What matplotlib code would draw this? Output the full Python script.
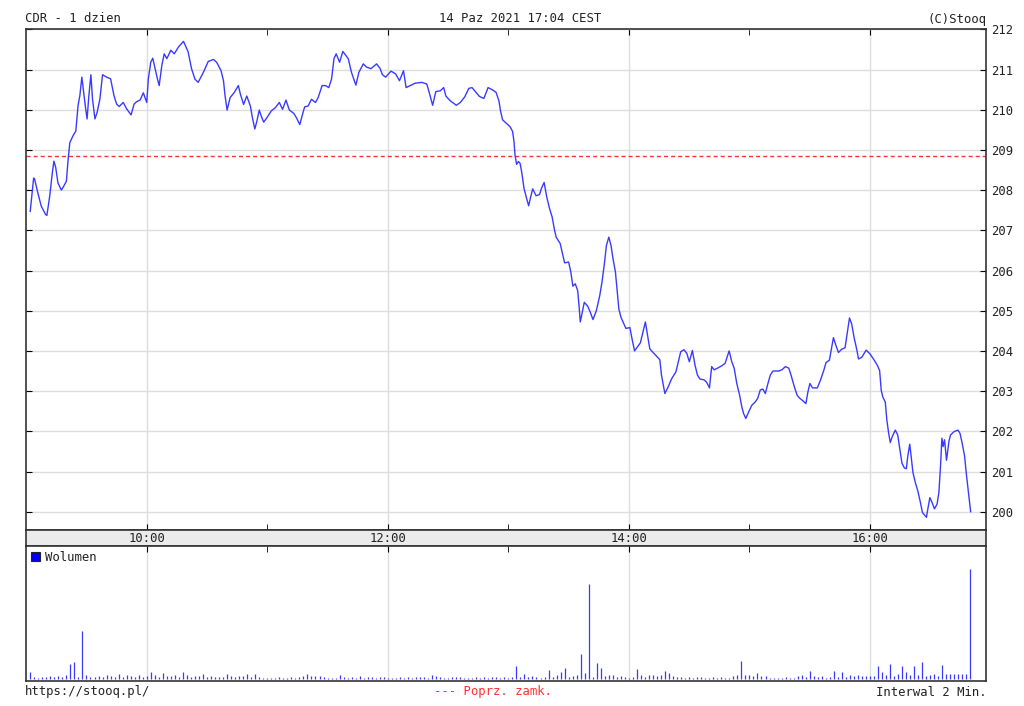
import matplotlib
matplotlib.use("Agg")  # no display
import matplotlib.pyplot as plt
import numpy as np
from matplotlib.patches import Patch

# price path: (minutes after 09:00, price in PLN)
price_points = [
    (2, 207.47), (3.7, 208.3), (4.2, 208.27), (5.8, 207.93), (7.5, 207.6),
    (9.7, 207.39), (10.3, 207.37), (11.7, 207.85), (13, 208.43), (13.8, 208.72),
    (14.7, 208.56), (15.8, 208.18), (17.5, 208.0), (18.7, 208.1), (20, 208.22),
    (20.8, 208.72), (21.7, 209.18), (23.3, 209.35), (24.7, 209.47), (25.8, 210.1),
    (26.7, 210.35), (27.7, 210.81), (28.7, 210.39), (29.5, 210.06), (30.3, 209.77),
    (31.2, 210.35), (32.2, 210.87), (33, 210.27), (34.2, 209.77), (35.3, 209.93),
    (36.7, 210.27), (38, 210.87), (40, 210.81), (42, 210.77), (43.7, 210.35),
    (45, 210.14), (46.3, 210.08), (48.3, 210.18), (50, 210.02), (52.2, 209.87),
    (53.7, 210.14), (55, 210.2), (56.7, 210.24), (58.3, 210.42), (60, 210.18),
    (60.8, 210.77), (62, 211.18), (63, 211.28), (64.2, 211.02), (65.3, 210.77),
    (66.2, 210.6), (67.5, 211.1), (68.7, 211.39), (70, 211.27), (72, 211.48),
    (73.7, 211.39), (75.8, 211.56), (78.3, 211.7),
    (80.6, 211.44), (82.3, 211.02), (84, 210.76), (85.6, 210.68), (88.2, 210.93),
    (90.6, 211.2), (93.2, 211.25), (94.8, 211.18), (97, 210.97), (98.2, 210.72),
    (99, 210.34), (100, 209.99), (101.5, 210.3), (103.6, 210.43), (105.6, 210.6),
    (106.6, 210.39), (108.2, 210.13), (109.8, 210.34), (111.6, 210.09), (112.6, 209.8),
    (113.8, 209.52), (114.8, 209.71), (116, 209.99), (117, 209.84), (118.2, 209.69),
    (119.8, 209.8), (122, 209.97), (124, 210.05), (126, 210.18), (127.6, 210.01),
    (129.3, 210.24), (131, 209.99), (133.2, 209.91), (134.5, 209.8), (136.2, 209.63),
    (137.3, 209.84), (138.6, 210.07), (140.3, 210.09), (142, 210.26), (144, 210.18),
    (145.3, 210.3), (147.3, 210.6), (149, 210.6), (150.6, 210.55), (152, 210.76),
    (153.2, 211.27), (154.3, 211.39), (156, 211.18), (157.6, 211.45),
    (160.3, 211.27), (161.9, 210.93), (164.1, 210.61), (165.6, 210.93), (167.8, 211.14),
    (169.4, 211.06), (171.6, 211.02), (174.4, 211.14), (176.1, 211.03), (177.3, 210.87),
    (178.9, 210.81), (181.6, 210.96), (183.9, 210.89), (185.8, 210.72), (187.8, 210.97),
    (189.1, 210.55), (191.1, 210.6), (193.6, 210.66), (196.9, 210.68), (199.4, 210.64),
    (200.6, 210.43), (202.3, 210.11), (203.9, 210.45), (206.1, 210.47), (207.8, 210.55),
    (208.9, 210.34), (211.1, 210.22), (214.1, 210.11), (216.1, 210.18), (218.3, 210.32),
    (220.3, 210.53), (221.9, 210.55), (223.9, 210.43), (225.6, 210.33), (227.8, 210.28),
    (229.9, 210.55), (231.9, 210.5), (233.9, 210.43), (235.3, 210.22), (236.1, 209.97),
    (237.1, 209.75), (238.8, 209.67), (240.8, 209.58), (242.1, 209.46), (242.8, 209.21),
    (243.3, 208.88), (244.1, 208.64), (245, 208.71), (245.8, 208.67), (246.6, 208.46),
    (247.8, 208.04), (249.1, 207.79), (250.1, 207.61), (251.1, 207.83), (252.1, 208.03),
    (253.8, 207.86), (255.5, 207.89), (256.6, 208.06), (257.8, 208.19), (259.1, 207.83),
    (260.5, 207.54), (261.8, 207.33), (263, 207.0), (263.8, 206.83), (265.8, 206.67),
    (267.1, 206.38), (268, 206.19), (270, 206.21), (271.1, 205.96), (272.1, 205.61),
    (273.3, 205.67), (274.5, 205.5), (275.1, 205.17), (275.8, 204.72), (276.8, 204.96),
    (277.8, 205.21), (279.5, 205.11), (280.8, 204.96), (282.1, 204.78), (283.8, 205.0),
    (285.5, 205.38), (286.6, 205.71), (287.8, 206.17), (288.8, 206.62), (290, 206.83),
    (291.1, 206.62), (292.1, 206.29), (293.3, 205.96), (294.1, 205.54), (295, 205.04),
    (296.1, 204.83), (297.5, 204.67), (298.5, 204.56), (300.5, 204.58), (301.6, 204.29),
    (302.8, 204.0), (305.7, 204.2), (308.2, 204.72), (310.4, 204.05),
    (315.4, 203.78), (316.2, 203.4), (317.9, 202.94), (319.6, 203.11), (321.2, 203.3),
    (323.4, 203.48), (324.6, 203.73), (325.8, 203.98), (327.4, 204.03), (328.8, 203.94),
    (330.1, 203.73), (331.6, 204.01), (332.9, 203.65), (334.1, 203.4), (335.4, 203.3),
    (337.4, 203.28), (338.7, 203.22), (340.1, 203.08), (341.2, 203.61), (342.4, 203.53),
    (344.1, 203.57), (346.2, 203.63), (347.9, 203.69), (348.7, 203.82), (349.9, 204.0),
    (351.2, 203.73), (352.4, 203.57), (353.7, 203.19), (355.1, 202.9), (356.2, 202.61),
    (357.1, 202.44), (358.2, 202.32), (359.6, 202.48), (361.2, 202.65), (362.9, 202.73),
    (364.1, 202.82), (365.4, 203.03), (366.7, 203.05), (367.9, 202.94), (369.1, 203.17),
    (370.4, 203.4), (371.7, 203.5), (374.6, 203.5), (376.2, 203.53), (377.9, 203.61),
    (379.6, 203.57), (380.7, 203.4), (382.1, 203.15), (383.7, 202.9), (385.1, 202.82),
    (386.8, 202.75), (388.1, 202.69), (389.1, 202.98), (390.1, 203.19), (391.4, 203.08),
    (393.8, 203.08), (395.4, 203.28), (397.1, 203.53),
    (398.1, 203.71), (399.8, 203.77), (400.9, 204.08), (401.8, 204.33), (402.9, 204.16),
    (404.3, 203.96), (405.9, 204.04), (407.6, 204.08), (408.8, 204.49), (409.8, 204.82),
    (410.9, 204.67), (412.1, 204.33), (413.4, 204.04), (414.3, 203.8), (415.9, 203.84),
    (418.1, 204.02), (420.1, 203.92), (422.1, 203.77), (423.8, 203.63), (424.8, 203.51),
    (425.6, 203.02), (426.4, 202.85), (427.6, 202.73), (428.4, 202.28), (429.3, 201.95),
    (430.1, 201.72), (431.1, 201.87), (432.6, 202.03), (433.8, 201.91), (434.8, 201.58),
    (435.9, 201.21), (437.1, 201.09), (438.1, 201.07), (438.8, 201.38), (439.8, 201.68),
    (440.4, 201.42), (441.4, 200.97), (442.6, 200.72), (443.8, 200.52), (445.1, 200.23),
    (446.1, 199.98), (447.1, 199.92), (448.1, 199.86), (448.8, 200.07), (449.8, 200.35),
    (450.9, 200.23), (452.1, 200.07), (453.4, 200.19), (454.3, 200.48), (455.1, 201.13),
    (455.8, 201.83), (456.4, 201.62), (457.1, 201.79), (458.1, 201.28), (459.3, 201.75),
    (460.1, 201.91), (461.8, 201.99), (463.8, 202.03), (464.8, 201.95), (465.9, 201.7),
    (467.1, 201.38), (467.9, 200.97), (468.9, 200.52), (470.1, 200.0),
]
prev_close = 208.85

# 2-minute volume bars 09:02 .. 16:50 (relative heights, no scale shown)
volume = [
    7, 2, 1, 2, 2, 3, 2, 3, 2, 4, 15, 17, 2, 48, 4, 2, 2, 3, 2, 4,
    3, 2, 5, 2, 4, 3, 2, 4, 2, 3, 7, 4, 2, 6, 3, 3, 4, 2, 7, 4,
    2, 3, 3, 5, 2, 3, 2, 2, 2, 5, 3, 2, 3, 3, 5, 2, 5, 2, 1, 1,
    1, 1, 2, 1, 1, 2, 1, 2, 3, 5, 3, 3, 3, 2, 1, 1, 1, 4,
    2, 1, 2, 1, 3, 1, 2, 2, 1, 2, 2, 1, 1, 1, 2, 1, 2, 1, 2, 2,
    2, 1, 4, 3, 2, 1, 1, 2, 2, 2, 1, 1, 1, 2, 1, 2, 1, 2, 2, 1,
    2, 1, 2, 13, 2, 5, 2, 3, 2, 1, 2, 9, 2, 4, 7, 11, 2, 3, 4, 25,
    6, 95, 2, 16, 11, 3, 4, 4, 2, 3, 2, 1, 2, 10, 4, 2, 4, 4, 3, 4,
    8, 6, 3, 2, 2,
    1, 2, 1, 2, 2, 1, 1, 2, 1, 2, 1, 1, 3, 4, 18, 4, 4, 3, 6, 3,
    3, 1, 1, 1, 1, 2, 1, 1, 3, 4, 2, 8, 3, 2, 3, 1, 2, 8, 2, 7,
    2, 4, 3, 4, 3, 3, 3, 3, 13, 7, 4, 15, 3, 5, 13, 7, 4, 13, 4, 17,
    3, 4, 5, 3, 14, 5, 5, 5, 5, 5, 5, 110,
]
vol_minutes = np.arange(2, 2 + 2 * len(volume), 2)

price_ticks = list(range(200, 213))
hour_major = [60, 180, 300, 420]
hour_minor = [120, 240, 360]
hour_labels = ["10:00", "12:00", "14:00", "16:00"]

FONT = "DejaVu Sans Mono"
TXT = "#222222"
GRID = "#dedede"
BLUE = "#3a3aff"
plt.rcParams["font.family"] = FONT

t, p = zip(*price_points)
xmax = 477.6

fig = plt.figure(figsize=(10.24, 7.06), dpi=100, facecolor="white")
L, W = 26.2 / 1024, 959.5 / 1024
ax = fig.add_axes([L, 1 - 530 / 706, W, (530 - 29.3) / 706])
strip = fig.add_axes([L, 1 - 546 / 706, W, 16 / 706])
axv = fig.add_axes([L, 1 - 680.7 / 706, W, (680.7 - 546) / 706])

for a in (ax, strip, axv):
    a.set_xlim(0, xmax)
    for s in a.spines.values():
        s.set_color("#333333")
        s.set_linewidth(1.2)

# price panel
ax.plot(t, p, color=BLUE, lw=1.0, zorder=3)
ax.axhline(prev_close, color="#ff3030", lw=1.0, ls=(0, (2.9, 2.2)), zorder=2)
ax.set_ylim(199.545, 212)
ax.set_yticks(price_ticks)
ax.set_xticks(hour_major)
ax.set_xticks(hour_minor, minor=True)
ax.grid(which="major", color=GRID, lw=1.0)
ax.set_axisbelow(True)
ax.tick_params(axis="y", direction="in", length=4, left=True, right=True,
               labelleft=False, labelright=True, labelsize=8.8,
               labelcolor=TXT, pad=4)
ax.tick_params(axis="x", which="both", direction="in", length=4, top=True,
               bottom=True, labelbottom=False)

# time strip
strip.set_facecolor("#ebebeb")
strip.set_yticks([])
strip.set_xticks([])
for xpos, lab in zip(hour_major, hour_labels):
    strip.text(xpos, 0.5, lab, transform=strip.get_xaxis_transform(),
               ha="center", va="center", fontsize=8.8, color=TXT)

# volume panel; bars sit just above the bottom frame line
axv.vlines(vol_minutes, 0, volume, color=BLUE, lw=0.9)
axv.set_ylim(-1.6, 133.1)
axv.set_yticks([])
axv.set_xticks(hour_major)
axv.set_xticks(hour_minor, minor=True)
axv.grid(which="major", axis="x", color=GRID, lw=1.0)
axv.set_axisbelow(True)
axv.tick_params(axis="x", which="both", direction="in", length=4, top=True,
                bottom=False, labelbottom=False)
axv.legend([Patch(facecolor="#0000ee", edgecolor="#222222", lw=0.8)], ["Wolumen"],
           loc="upper left", frameon=False, fontsize=8.8, handlelength=0.75,
           handleheight=0.75, handletextpad=0.35, borderaxespad=0.3,
           borderpad=0.1, labelcolor=TXT)

# header / footer
fig.text(25 / 1024, 1 - 19 / 706, "CDR - 1 dzien", ha="left", va="center",
         fontsize=8.8, color=TXT)
fig.text(520 / 1024, 1 - 19 / 706, "14 Paz 2021 17:04 CEST", ha="center",
         va="center", fontsize=8.8, color=TXT)
fig.text(986 / 1024, 1 - 19 / 706, "(C)Stooq", ha="right", va="center",
         fontsize=8.8, color=TXT)
fig.text(25 / 1024, 1 - 692 / 706, "https://stooq.pl/", ha="left", va="center",
         fontsize=8.8, color=TXT)
fig.text(493 / 1024, 1 - 692 / 706, "--- Poprz. zamk.", ha="center", va="center",
         fontsize=8.8, color="#ff3030")
fig.text(987 / 1024, 1 - 692 / 706, "Interwal 2 Min.", ha="right", va="center",
         fontsize=8.8, color=TXT)

fig.savefig("out.png", dpi=100, facecolor="white")
plt.close(fig)
